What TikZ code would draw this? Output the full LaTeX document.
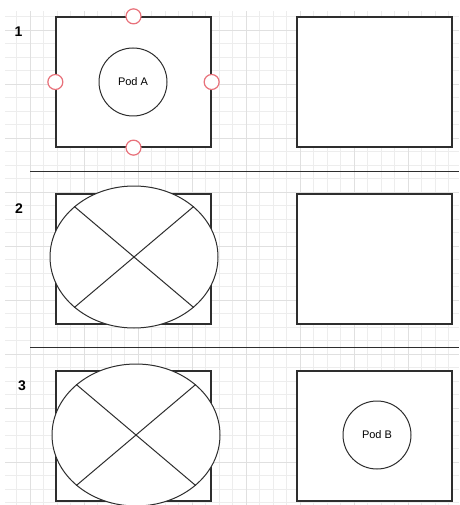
\documentclass[tikz,border=0pt]{standalone}
\usepackage{fontspec}
\setsansfont{Liberation Sans}
\usepackage{xcolor}
\usetikzlibrary{positioning, shapes.geometric}
\definecolor{gridminor}{HTML}{EDEDED}
\definecolor{gridmajor}{HTML}{E0E0E0}
\definecolor{handlered}{HTML}{E8717A}
\definecolor{ink}{HTML}{2E2E2E}
\tikzset{
  host/.style  ={draw=ink, fill=white, line width=1.3pt, minimum width=155pt,
                 minimum height=130pt, inner sep=0pt},
  pod/.style   ={draw=ink, fill=white, circle, line width=1pt, minimum size=68pt,
                 inner sep=0pt, font=\sffamily\fontsize{11}{13}\selectfont},
  handle/.style={draw=handlered, fill=white, circle, line width=1.2pt,
                 minimum size=15pt, inner sep=0pt},
  gone/.style  ={draw=ink, fill=white, ellipse, line width=1pt, minimum width=168pt,
                 minimum height=142pt, inner sep=0pt},
  cross/.style ={draw=ink, line width=1pt},
  stepnum/.style={font=\sffamily\bfseries\fontsize{14}{16}\selectfont, inner sep=0pt},
  divider/.style={draw=ink, line width=1.5pt}
}

\begin{document}
\begin{tikzpicture}[x=1pt, y=-1pt,
  gridline/.style={gridminor, line width=0.8pt},
  gridbold/.style={gridmajor, line width=1pt}
]
  \useasboundingbox (0,0) rectangle (459,505);

  % background grid
  \begin{scope}
    \clip (5,12) rectangle (459,505);
    \foreach \i in {0,...,33} \draw[gridline] ({3.3+13.5*\i},0) -- ++(0,505);
    \foreach \j in {0,...,37} \draw[gridline] (0,{3.2+13.5*\j}) -- ++(459,0);
    \foreach \i in {2,6,...,30} \draw[gridbold] ({3.3+13.5*\i},0) -- ++(0,505);
    \foreach \j in {2,6,...,34} \draw[gridbold] (0,{3.2+13.5*\j}) -- ++(459,0);
  \end{scope}

  % step 1
  \node[stepnum] (num1) at (18.5,31.5) {1};
  \node[host] (hostA1) at (133.5,82) {};
  \node[host] (hostB1) at (374.5,82) {};
  \node[pod]  (podA)   at (133,82) {Pod A};
  \foreach \side in {north,west,east,south}
    \node[handle] at (hostA1.\side) {};

  \coordinate (div1w) at (30,171.5);
  \coordinate (div1e) at (459,171.5);
  \draw[divider] (div1w) -- (div1e);

  % step 2
  \node[stepnum] (num2) at (19,209) {2};
  \node[host] (hostA2) at (133.5,259) {};
  \node[host] (hostB2) at (374.5,259) {};
  \node[gone] (down2)  at (134,257) {};
  \draw[cross] (down2.north west) -- (down2.south east);
  \draw[cross] (down2.north east) -- (down2.south west);

  \coordinate (div2w) at (30,347.5);
  \coordinate (div2e) at (459,347.5);
  \draw[divider] (div2w) -- (div2e);

  % step 3
  \node[stepnum] (num3) at (22,386) {3};
  \node[host] (hostA3) at (133.5,436) {};
  \node[host] (hostB3) at (374.5,436) {};
  \node[gone] (down3)  at (136,435) {};
  \draw[cross] (down3.north west) -- (down3.south east);
  \draw[cross] (down3.north east) -- (down3.south west);
  \node[pod]  (podB)   at (377,435) {Pod B};
\end{tikzpicture}
\end{document}
